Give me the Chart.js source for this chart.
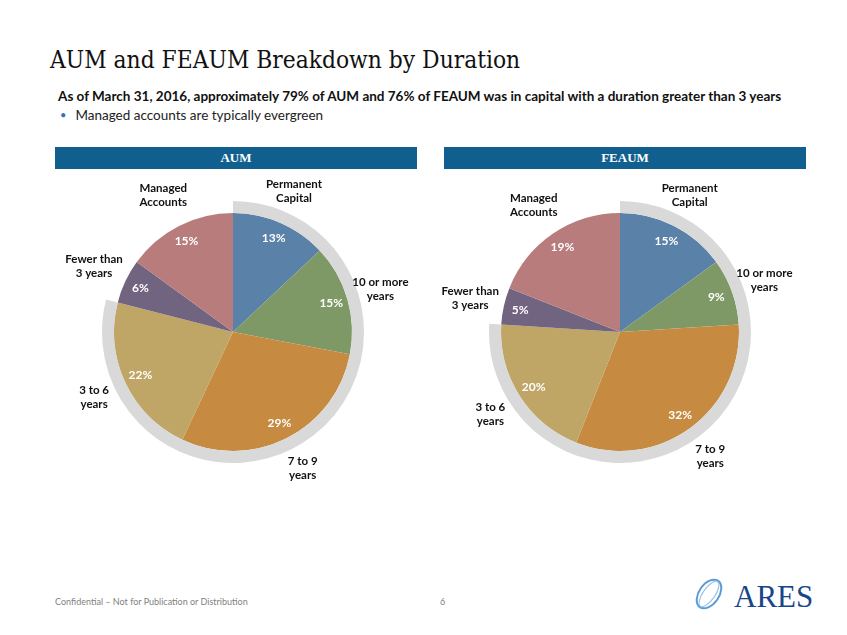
<!DOCTYPE html>
<html>
<head>
<meta charset="utf-8">
<script src="https://cdn.jsdelivr.net/npm/chart.js@4.4.1/dist/chart.umd.min.js"></script>
<style>
  html,body{margin:0;padding:0;background:#fff;}
  body{width:847px;height:635px;position:relative;overflow:hidden;font-family:Lato,"Open Sans",sans-serif;}
  .abs{position:absolute;white-space:nowrap;}
  #title{left:50px;top:45px;font-family:"DejaVu Serif Condensed","DejaVu Serif",serif;font-stretch:condensed;font-size:24.3px;color:#111;}
  #sub{left:58px;top:88px;font-weight:bold;font-size:13.5px;color:#111;}
  #bullet{left:60px;top:107px;font-size:13.5px;color:#222;}
  #bullet span{color:#2E75B6;margin-right:9px;font-size:11px;position:relative;top:-1px;}
  .bar{position:absolute;top:147px;height:22px;background:#115F8F;color:#fff;text-align:center;
       font-family:"Liberation Serif",serif;font-weight:bold;font-size:13px;line-height:22px;}
  #foot{left:55px;top:596px;font-size:9px;color:#7F7F7F;}
  #page{left:440px;top:596px;font-size:9px;color:#7F7F7F;}
  canvas{position:absolute;}
</style>
</head>
<body>
<div id="title" class="abs">AUM and FEAUM Breakdown by Duration</div>
<div id="sub" class="abs">As of March 31, 2016, approximately 79% of AUM and 76% of FEAUM was in capital with a duration greater than 3 years</div>
<div id="bullet" class="abs"><span>&#8226;</span>Managed accounts are typically evergreen</div>
<div class="bar" style="left:55px;width:362px;">AUM</div>
<div class="bar" style="left:444px;width:362px;">FEAUM</div>

<div style="position:absolute;left:33px;top:172px;width:400px;height:320px;"><canvas id="aum"></canvas></div>
<div style="position:absolute;left:420px;top:172px;width:400px;height:320px;"><canvas id="feaum"></canvas></div>

<div id="foot" class="abs">Confidential &#8211; Not for Publication or Distribution</div>
<div id="page" class="abs">6</div>
<svg class="abs" style="left:694px;top:574px;" width="120" height="40" viewBox="0 0 120 40">
  <ellipse cx="15" cy="20" rx="10" ry="16" transform="rotate(35 15 20)" fill="none" stroke="#5B9BD5" stroke-width="2"/>
  <ellipse cx="15" cy="20" rx="6" ry="15" transform="rotate(35 15 20)" fill="none" stroke="#9DC3E6" stroke-width="1.2"/>
  <text x="40" y="33" font-family="Liberation Serif, serif" font-size="31" fill="#17468A">ARES</text>
</svg>

<script>
// ---- data ----
const categories = ["Permanent Capital", "10 or more years", "7 to 9 years", "3 to 6 years", "Fewer than 3 years", "Managed Accounts"];
const labelLines = [["Permanent", "Capital"], ["10 or more", "years"], ["7 to 9", "years"], ["3 to 6", "years"], ["Fewer than", "3 years"], ["Managed", "Accounts"]];
const aumValues = [13, 15, 29, 22, 6, 15];
const feaumValues = [15, 9, 32, 20, 5, 19];
const longDurationCount = 4; // first four categories have duration > 3 years

const sliceColors = ["#5A81A7", "#7F9966", "#C68A41", "#BFA666", "#716480", "#B97C7C"];
const ringColor = "#D9D9D9";

const labelPlugin = {
  id: "sliceLabels",
  afterDatasetsDraw(chart) {
    const ctx = chart.ctx;
    const meta = chart.getDatasetMeta(1);
    const vals = chart.data.datasets[1].data;
    ctx.save();
    meta.data.forEach((arc, i) => {
      const p = arc.getProps(["x", "y", "startAngle", "endAngle", "outerRadius"], true);
      const mid = (p.startAngle + p.endAngle) / 2;
      const r1 = p.outerRadius * 0.86;
      ctx.font = "bold 12px Lato, 'Open Sans', sans-serif";
      ctx.fillStyle = "#FFFFFF";
      ctx.textAlign = "center";
      ctx.textBaseline = "middle";
      ctx.fillText(vals[i] + "%", p.x + Math.cos(mid) * r1, p.y + Math.sin(mid) * r1);
      const r2 = p.outerRadius * 1.29;
      const lx = p.x + Math.cos(mid) * r2, ly = p.y + Math.sin(mid) * r2;
      ctx.font = "bold 11.5px Lato, 'Open Sans', sans-serif";
      ctx.fillStyle = "#111111";
      const lines = labelLines[i];
      const lh = 14;
      lines.forEach((t, k) => {
        ctx.fillText(t, lx, ly + (k - (lines.length - 1) / 2) * lh);
      });
    });
    ctx.restore();
  }
};

function makePie(id, values) {
  const total = values.reduce((a, b) => a + b, 0);
  const longShare = values.slice(0, longDurationCount).reduce((a, b) => a + b, 0);
  new Chart(document.getElementById(id), {
    type: "doughnut",
    data: {
      labels: categories,
      datasets: [
        { data: [longShare, total - longShare], backgroundColor: [ringColor, "rgba(0,0,0,0)"], borderWidth: 0, weight: 12 },
        { data: values, backgroundColor: sliceColors, borderWidth: 0, weight: 119 }
      ]
    },
    options: {
      responsive: true,
      maintainAspectRatio: false,
      animation: false,
      cutout: 0,
      events: [],
      layout: { padding: { top: 29, bottom: 29, left: 0, right: 0 } },
      plugins: { legend: { display: false }, tooltip: { enabled: false } }
    },
    plugins: [labelPlugin]
  });
}
makePie("aum", aumValues);
makePie("feaum", feaumValues);
</script>
</body>
</html>
